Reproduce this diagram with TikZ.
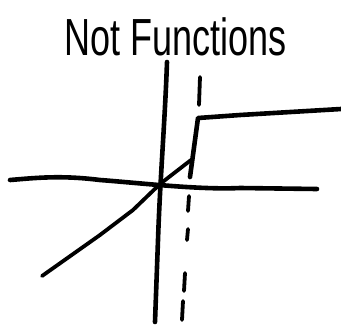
\documentclass[tikz,border=0pt]{standalone}
\usepackage{fontspec}
\setmainfont{Liberation Sans}
\begin{document}
\begin{tikzpicture}[x=1pt,y=-1pt,
  ink/.style={line width=4.6pt,line cap=round,line join=round,black},
  thin ink/.style={line width=3.8pt,line cap=round,line join=round,black}]
\useasboundingbox[fill=white] (0,0) rectangle (341,325);
% title
\node[inner sep=0pt] (title) at (176,37) {\scalebox{1}[1.45]{\fontsize{36}{40}\selectfont Not Functions}};
% vertical axis
\draw[ink] (167,62) .. controls (165,120) and (160,180) .. (158,240) -- (155,322);
% horizontal axis
\draw[ink] (10,180) .. controls (35,178) and (60,175) .. (100,180) .. controls (140,183) and (200,190) .. (240,188) -- (317,189);
% diagonal line through origin
\draw[thin ink] (42,276) -- (100,235) -- (133,210) -- (160,184) -- (191,160);
% step
\draw[ink] (190,177) -- (198,118) -- (240,115) -- (341,109);
% dashed vertical
\draw[thin ink] (200,77) -- (199,105);
\draw[thin ink] (189,196) -- (188,211);
\draw[thin ink] (188,229) -- (187,240);
\draw[thin ink] (185,273) -- (184,291);
\draw[thin ink] (183,301) -- (182,320);
\end{tikzpicture}
\end{document}
